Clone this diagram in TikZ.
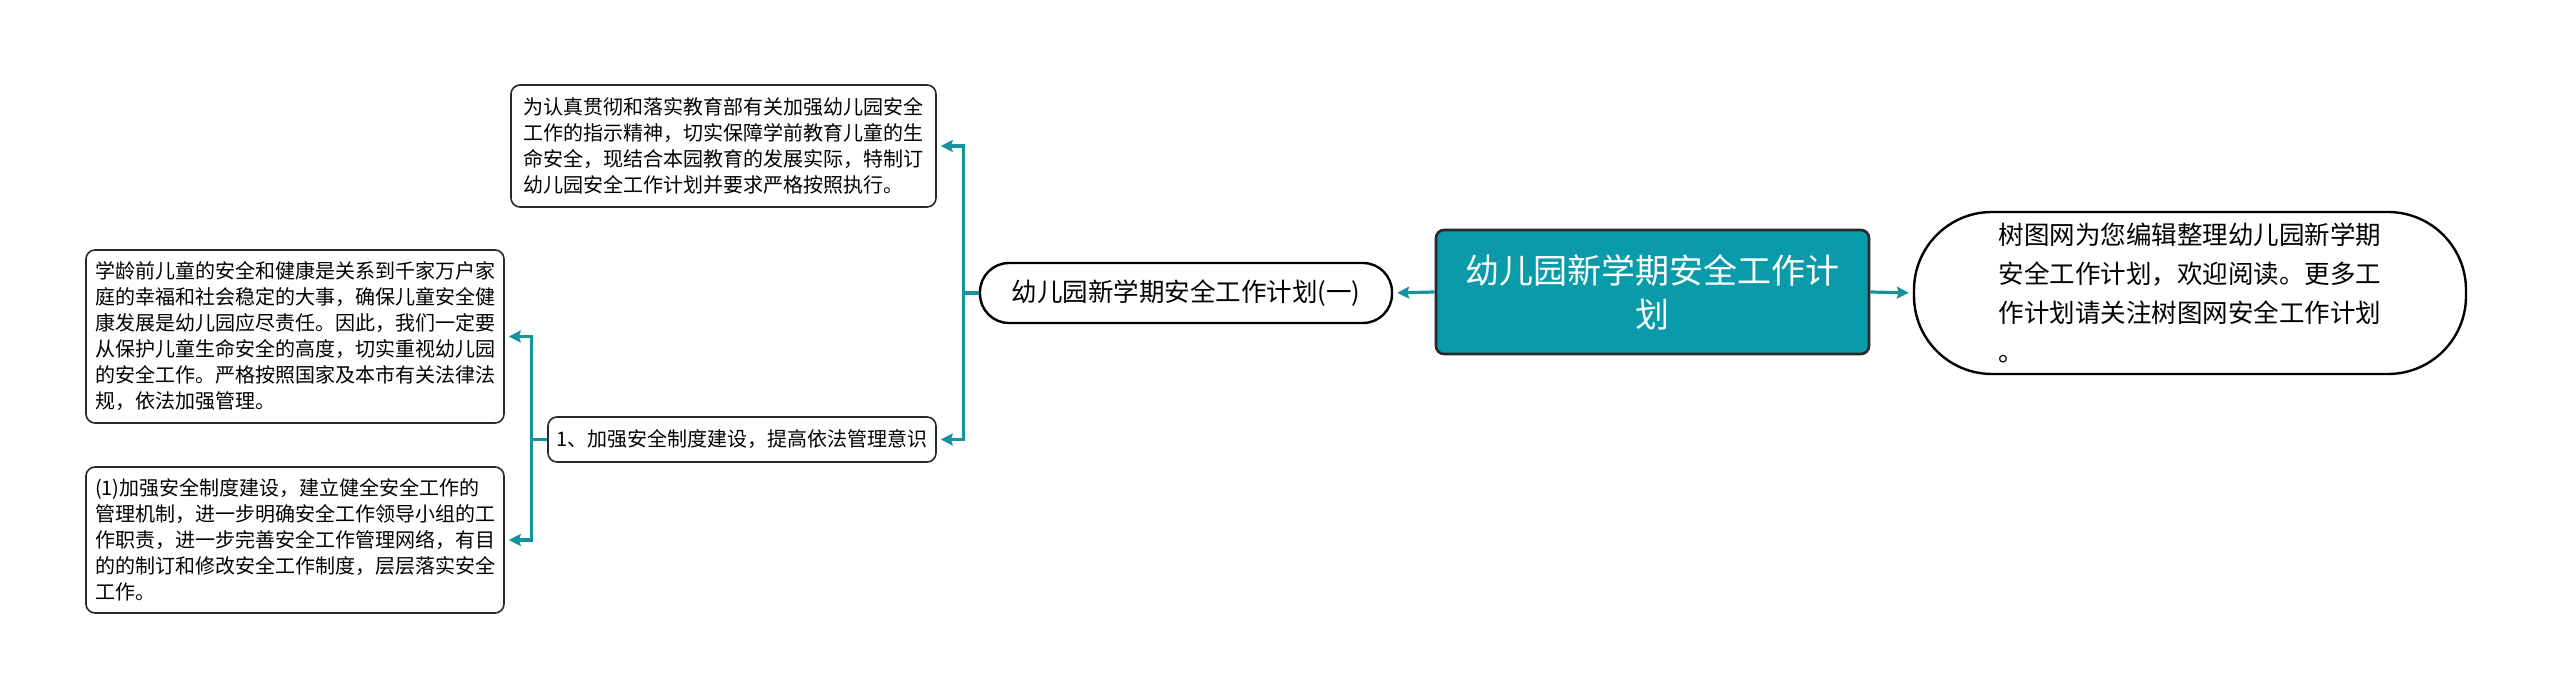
\documentclass[tikz,border=0pt]{standalone}
\usepackage{fontspec}
\setmainfont{Noto Sans CJK SC}
\usetikzlibrary{arrows.meta}
\definecolor{teal1}{RGB}{10,155,170}
\definecolor{link}{RGB}{22,146,158}
\definecolor{edge}{RGB}{40,40,40}
\tikzset{
  box/.style={draw=edge, line width=1.6pt, rounded corners=9pt, fill=white, align=left, inner sep=0pt,
    font=\fontsize{20}{26}\selectfont, text=black},
  rootbox/.style={draw=edge, line width=2.6pt, rounded corners=8pt, fill=teal1, align=center, inner sep=0pt,
    font=\fontsize{34}{44}\selectfont, text=white},
  pill/.style={draw=black, line width=2.4pt, rounded corners=29pt, fill=white, inner sep=0pt,
    font=\fontsize{25.5}{32}\selectfont},
  bubble/.style={draw=black, line width=2.4pt, rounded corners=78pt, fill=white, align=left, inner sep=0pt,
    font=\fontsize{25.5}{39}\selectfont},
  conn/.style={draw=link, line width=3.2pt, -{Stealth[length=12pt,width=12pt,inset=2pt]}, shorten >=4pt}
}
\begin{document}
\begin{tikzpicture}[x=1pt,y=-1pt]
\useasboundingbox (0,0) rectangle (2560,700);
\node[rootbox, minimum width=433pt, minimum height=124pt] (root) at (1652.5,292) {幼儿园新学期安全工作计\\划};
\node[bubble, minimum width=552pt, minimum height=162pt] (note) at (2190,293)
  {树图网为您编辑整理幼儿园新学期\\安全工作计划，欢迎阅读。更多工\\作计划请关注树图网安全工作计划\\。};
\node[pill, minimum width=412pt, minimum height=60pt] (l1) at (1186,293) {幼儿园新学期安全工作计划(一)};
\node[box, minimum width=425pt, minimum height=122pt] (top) at (723.5,146)
  {为认真贯彻和落实教育部有关加强幼儿园安全\\工作的指示精神，切实保障学前教育儿童的生\\命安全，现结合本园教育的发展实际，特制订\\幼儿园安全工作计划并要求严格按照执行。};
\node[box, minimum width=388pt, minimum height=45pt] (one) at (742,439.5)
  {1、加强安全制度建设，提高依法管理意识};
\node[box, minimum width=418pt, minimum height=173pt] (b1) at (295,336.5)
  {学龄前儿童的安全和健康是关系到千家万户家\\庭的幸福和社会稳定的大事，确保儿童安全健\\康发展是幼儿园应尽责任。因此，我们一定要\\从保护儿童生命安全的高度，切实重视幼儿园\\的安全工作。严格按照国家及本市有关法律法\\规，依法加强管理。};
\node[box, minimum width=418pt, minimum height=146pt] (b2) at (295,540)
  {(1)加强安全制度建设，建立健全安全工作的\\管理机制，进一步明确安全工作领导小组的工\\作职责，进一步完善安全工作管理网络，有目\\的的制订和修改安全工作制度，层层落实安全\\工作。};
\draw[conn] (root.west) -- (l1.east);
\draw[conn] (root.east) -- (note.west);
\draw[conn] (l1.west) -- ++(-15,0) |- (top.east);
\draw[conn] (l1.west) -- ++(-15,0) |- (one.east);
\draw[conn] (one.west) -- ++(-16,0) |- (b1.east);
\draw[conn] (one.west) -- ++(-16,0) |- (b2.east);
\end{tikzpicture}
\end{document}
